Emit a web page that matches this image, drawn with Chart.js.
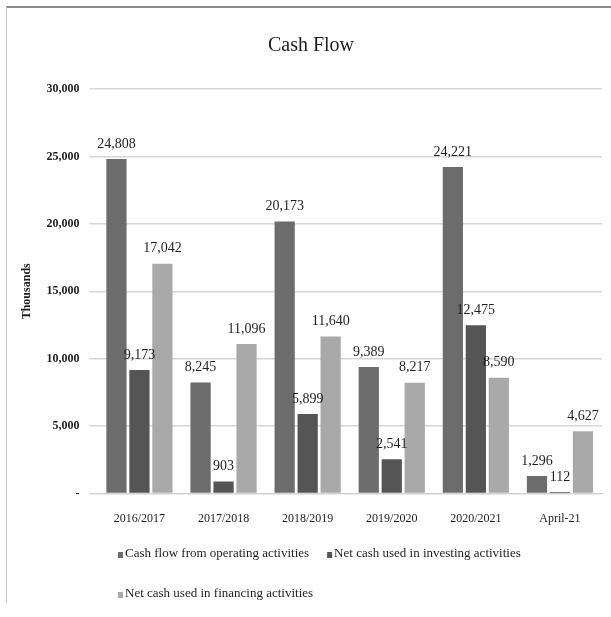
<!DOCTYPE html>
<html>
<head>
<meta charset="utf-8">
<script src="https://cdn.jsdelivr.net/npm/chart.js@4/dist/chart.umd.min.js"></script>
<style>
  html, body { margin:0; padding:0; background:#fff; }
  #wrap { position:relative; width:611px; height:617px; overflow:hidden; }
  #frame { position:absolute; left:6px; top:6px; right:0; bottom:14px;
           border-top:2px solid #8a8a8a; border-left:1px solid #c8c8c8; }
  canvas { position:absolute; left:0; top:0; }
</style>
</head>
<body>
<div id="wrap">
  <div id="frame"></div>
  <canvas id="c" width="611" height="617"></canvas>
</div>
<script>
'use strict';

// ── data ──
var categories = ['2016/2017','2017/2018','2018/2019','2019/2020','2020/2021','April-21'];
var operating = [24808, 8245, 20173, 9389, 24221, 1296];
var investing = [9173, 903, 5899, 2541, 12475, 112];
var financing = [17042, 11096, 11640, 8217, 8590, 4627];
var seriesNames = ['Cash flow from operating activities','Net cash used in investing activities','Net cash used in financing activities'];
var yTicks = [0, 5000, 10000, 15000, 20000, 25000, 30000];

var SERIF = "'Liberation Serif','DejaVu Serif',serif";
var colors = ['#6c6c6c', '#555555', '#a9a9a9'];

function fmt(v){ return v.toLocaleString('en-US'); }

// value labels above each bar
var valueLabels = {
  id: 'valueLabels',
  afterDatasetsDraw: function(chart){
    var ctx = chart.ctx;
    ctx.save();
    ctx.font = '14px ' + SERIF;
    ctx.fillStyle = '#1e1e1e';
    ctx.textAlign = 'center';
    ctx.textBaseline = 'bottom';
    chart.data.datasets.forEach(function(ds, di){
      chart.getDatasetMeta(di).data.forEach(function(bar, i){
        ctx.fillText(fmt(ds.data[i]), bar.x, bar.y - 8);
      });
    });
    ctx.restore();
  }
};

// Excel-style legend: rows share one left edge
var bottomLegend = {
  id: 'bottomLegend',
  afterDraw: function(chart){
    var ctx = chart.ctx;
    ctx.save();
    ctx.font = '13px ' + SERIF;
    ctx.fillStyle = '#1e1e1e';
    ctx.textBaseline = 'middle';
    var rows = [[0,1],[2]];
    var rowY = [554, 594];
    var x0 = 118;
    rows.forEach(function(r, ri){
      var x = x0;
      r.forEach(function(di){
        var ds = chart.data.datasets[di];
        ctx.fillStyle = ds.backgroundColor;
        ctx.fillRect(x, rowY[ri] - 2, 5, 6);
        ctx.fillStyle = '#1e1e1e';
        ctx.fillText(ds.label, x + 7, rowY[ri]);
        x += 7 + ctx.measureText(ds.label).width + 18;
      });
    });
    ctx.restore();
  }
};

new Chart(document.getElementById('c'), {
  type: 'bar',
  data: {
    labels: categories,
    datasets: [
      { label: seriesNames[0], data: operating, backgroundColor: colors[0] },
      { label: seriesNames[1], data: investing, backgroundColor: colors[1] },
      { label: seriesNames[2], data: financing, backgroundColor: colors[2] }
    ]
  },
  options: {
    responsive: false,
    animation: false,
    devicePixelRatio: 1,
    layout: { padding: { left: 20, right: 9, top: 24, bottom: 81 } },
    datasets: { bar: { categoryPercentage: 0.82, barPercentage: 0.88 } },
    plugins: {
      legend: { display: false },
      tooltip: { enabled: false },
      title: {
        display: true,
        text: 'Cash Flow',
        color: '#1e1e1e',
        font: { family: SERIF, size: 20, weight: 'normal' },
        padding: { top: 10, bottom: 31 }
      }
    },
    scales: {
      x: {
        grid: { display: false },
        border: { color: '#d0d0d0' },
        ticks: { color: '#1e1e1e', font: { family: SERIF, size: 12 }, padding: 10, maxRotation: 0 }
      },
      y: {
        min: 0, max: 30000,
        afterBuildTicks: function(axis){ axis.ticks = yTicks.map(function(v){ return { value: v }; }); },
        grid: { color: '#d6d6d6', lineWidth: 1.5 },
        border: { display: false },
        title: {
          display: true, text: 'Thousands', color: '#1e1e1e',
          font: { family: SERIF, size: 12, weight: 'bold' }, padding: { top: 0, bottom: 2 }
        },
        ticks: {
          color: '#1e1e1e', padding: 10,
          font: { family: SERIF, size: 12, weight: 'bold' },
          callback: function(v){ return v === 0 ? '-' : fmt(v); }
        }
      }
    }
  },
  plugins: [valueLabels, bottomLegend]
});
</script>
</body>
</html>
